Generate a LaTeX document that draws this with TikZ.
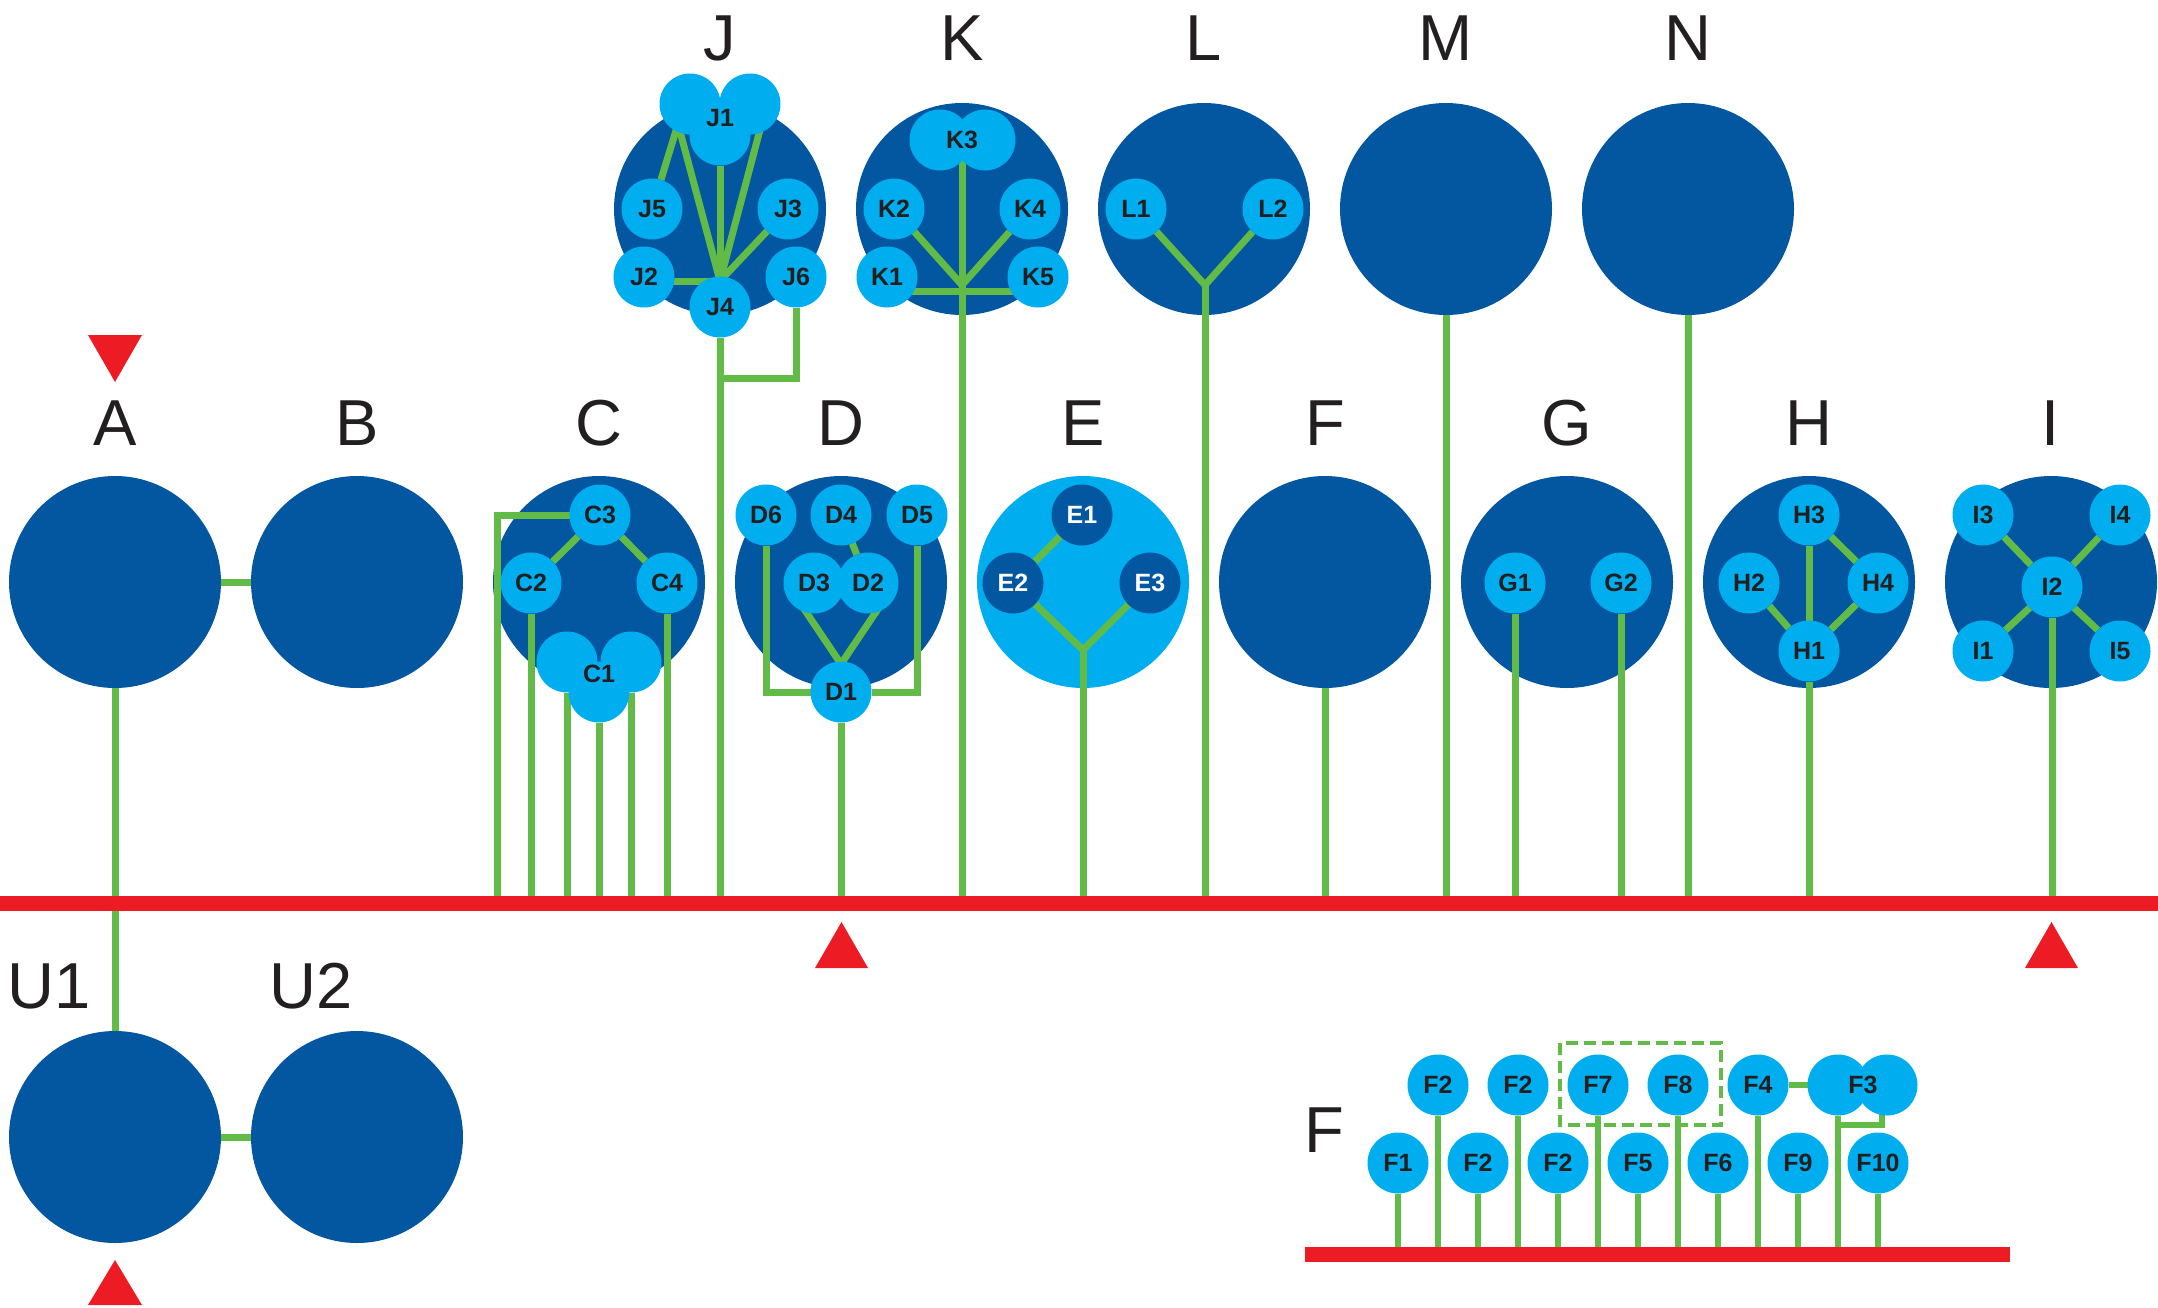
\documentclass[tikz,border=0pt]{standalone}
\usepackage{fontspec}
\setmainfont{Liberation Sans}
\definecolor{dblue}{RGB}{3,86,160}
\definecolor{lblue}{RGB}{0,174,239}
\definecolor{grn}{RGB}{98,187,70}
\definecolor{rd}{RGB}{237,28,36}
\definecolor{ink}{RGB}{35,31,32}
\pgfdeclarelayer{bg}
\pgfdeclarelayer{fg}
\pgfdeclarelayer{top}
\pgfsetlayers{bg,main,fg,top}
\tikzset{
  big/.style={circle, fill=dblue, minimum size=212pt, inner sep=0pt, outer sep=0pt},
  bigl/.style={big, fill=lblue},
  sm/.style={circle, fill=lblue, minimum size=61pt, inner sep=0pt, outer sep=0pt, text=ink, font=\fontsize{25}{25}\selectfont\bfseries},
  smd/.style={sm, fill=dblue, text=white},
  lobe/.style={circle, fill=lblue, minimum size=61pt, inner sep=0pt, outer sep=0pt},
  lobetext/.style={inner sep=0pt, text=ink, font=\fontsize{25}{25}\selectfont\bfseries},
  ttl/.style={inner sep=0pt, text=ink, font=\fontsize{65}{65}\selectfont},
  wire/.style={draw=grn, line width=7pt},
  fwire/.style={draw=grn, line width=6pt},
  busline/.style={draw=rd, line width=15pt},
  redtri/.style={fill=rd},
  dbox/.style={draw=grn, line width=4pt, dash pattern=on 12pt off 6pt}
}
\begin{document}
\begin{tikzpicture}[x=1pt,y=-1pt]
\useasboundingbox (0,0) rectangle (2158,1307);
% ---------- big circles ----------
\begin{pgfonlayer}{bg}
\node[big] (cA) at (115,582) {};
\node[big] (cB) at (357,582) {};
\node[big] (cC) at (599,582) {};
\node[big] (cD) at (841,582) {};
\node[bigl] (cE) at (1083,582) {};
\node[big] (cF) at (1325,582) {};
\node[big] (cG) at (1567,582) {};
\node[big] (cH) at (1809,582) {};
\node[big] (cI) at (2051,582) {};
\node[big] (cJ) at (720,209) {};
\node[big] (cK) at (962,209) {};
\node[big] (cL) at (1204,209) {};
\node[big] (cM) at (1446,209) {};
\node[big] (cN) at (1688,209) {};
\node[big] (cU1) at (115,1137) {};
\node[big] (cU2) at (357,1137) {};
\end{pgfonlayer}
% ---------- titles ----------
\node[ttl] (tA) at (115,423) {A};
\node[ttl] (tB) at (357,423) {B};
\node[ttl] (tC) at (599,423) {C};
\node[ttl] (tD) at (841,423) {D};
\node[ttl] (tE) at (1083,423) {E};
\node[ttl] (tF) at (1325,423) {F};
\node[ttl] (tG) at (1567,423) {G};
\node[ttl] (tH) at (1809,423) {H};
\node[ttl] (tI) at (2051,423) {I};
\node[ttl] (tJ) at (720,38) {J};
\node[ttl] (tK) at (962,38) {K};
\node[ttl] (tL) at (1204,38) {L};
\node[ttl] (tM) at (1446,38) {M};
\node[ttl] (tN) at (1688,38) {N};
\node[ttl] (tU1) at (49,986) {U1};
\node[ttl] (tU2) at (311,986) {U2};
\node[ttl] (tFrow) at (1324,1130) {F};
% ---------- small circles ----------
\begin{pgfonlayer}{fg}
% C
\node[sm] (C3) at (600,515) {C3};
\node[sm] (C2) at (531,583) {C2};
\node[sm] (C4) at (667,583) {C4};
\node[lobe] (C1a) at (567,662) {};
\node[lobe] (C1b) at (631,662) {};
\node[lobe] (C1c) at (599,692) {};
\node[lobetext] (C1) at (599,674) {C1};
% D
\node[sm] (D6) at (766,515) {D6};
\node[sm] (D4) at (841,515) {D4};
\node[sm] (D5) at (917,515) {D5};
\node[sm] (D3) at (814,583) {D3};
\node[sm] (D2) at (868,583) {D2};
\node[sm] (D1) at (841,692) {D1};
% E
\node[smd] (E1) at (1082,515) {E1};
\node[smd] (E2) at (1013,583) {E2};
\node[smd] (E3) at (1150,583) {E3};
% G
\node[sm] (G1) at (1515,583) {G1};
\node[sm] (G2) at (1621,583) {G2};
% H
\node[sm] (H3) at (1809,515) {H3};
\node[sm] (H2) at (1749,583) {H2};
\node[sm] (H4) at (1878,583) {H4};
\node[sm] (H1) at (1809,651) {H1};
% I
\node[sm] (I3) at (1983,515) {I3};
\node[sm] (I4) at (2120,515) {I4};
\node[sm] (I1) at (1983,651) {I1};
\node[sm] (I5) at (2120,651) {I5};
\node[sm] (I2) at (2052,587) {I2};
% J
\node[lobe] (J1a) at (690,104) {};
\node[lobe] (J1b) at (750,104) {};
\node[lobe] (J1c) at (720,135) {};
\node[lobetext] (J1) at (720,118) {J1};
\node[sm] (J5) at (652,209) {J5};
\node[sm] (J3) at (788,209) {J3};
\node[sm] (J2) at (644,277) {J2};
\node[sm] (J6) at (796,277) {J6};
\node[sm] (J4) at (720,307) {J4};
% K
\node[lobe] (K3a) at (940,140) {};
\node[lobe] (K3b) at (985,140) {};
\node[lobetext] (K3) at (962,140) {K3};
\node[sm] (K2) at (894,209) {K2};
\node[sm] (K4) at (1030,209) {K4};
\node[sm] (K1) at (887,277) {K1};
\node[sm] (K5) at (1038,277) {K5};
% L
\node[sm] (L1) at (1136,209) {L1};
\node[sm] (L2) at (1273,209) {L2};
% F row
\node[sm] (Ft1) at (1438,1085) {F2};
\node[sm] (Ft2) at (1518,1085) {F2};
\node[sm] (F7) at (1598,1085) {F7};
\node[sm] (F8) at (1678,1085) {F8};
\node[sm] (F4) at (1758,1085) {F4};
\node[lobe] (F3a) at (1838,1085) {};
\node[lobe] (F3b) at (1887,1085) {};
\node[lobetext] (F3) at (1863,1085) {F3};
\node[sm] (F1) at (1398,1163) {F1};
\node[sm] (Fb2) at (1478,1163) {F2};
\node[sm] (Fb3) at (1558,1163) {F2};
\node[sm] (F5) at (1638,1163) {F5};
\node[sm] (F6) at (1718,1163) {F6};
\node[sm] (F9) at (1798,1163) {F9};
\node[sm] (F10) at (1878,1163) {F10};
\end{pgfonlayer}
% ---------- coordinates ----------
\coordinate (busL) at (0,903);
\coordinate (busR) at (2158,903);
\coordinate (fbL) at (1305,1254);
\coordinate (fbR) at (2010,1254);
\coordinate (c3k) at (497,515);
\coordinate (dv) at (841,664);
\coordinate (d3s) at (800,603);
\coordinate (d2s) at (882,603);
\coordinate (ej) at (1083,650);
\coordinate (jh) at (720,281);
\coordinate (jl) at (678,124);
\coordinate (jr) at (761,126);
\coordinate (jk) at (720,378);
\coordinate (kh) at (962,285);
\coordinate (kb) at (962,291);
\coordinate (lh) at (1205,285);
\coordinate (fk) at (1860,1125);
\coordinate (f3r) at (1882,1105);
% ---------- green connectors ----------
\draw[wire] (cA) -- (cB);
\draw[wire] (cA) -- (cU1);
\draw[wire] (cU1) -- (cU2);
% C
\draw[wire] (C3) -- (C2);
\draw[wire] (C3) -- (C4);
\draw[wire] (C3) -- (c3k) -- (c3k |- busL);
\draw[wire] (C2) -- (C2 |- busL);
\draw[wire] (C1a) -- (C1a |- busL);
\draw[wire] (C1c) -- (C1c |- busL);
\draw[wire] (C1b) -- (C1b |- busL);
\draw[wire] (C4) -- (C4 |- busL);
% D
\draw[wire] (D4) -- (D2);
\draw[wire] (d3s) -- (dv);
\draw[wire] (d2s) -- (dv);
\draw[wire] (D6) -- (D6 |- D1) -- (D1);
\draw[wire] (D5) -- (D5 |- D1) -- (D1);
\draw[wire] (D1) -- (D1 |- busL);
% E
\draw[wire] (E1) -- (E2);
\draw[wire] (E2) -- (ej);
\draw[wire] (E3) -- (ej);
\draw[wire] (ej) -- (ej |- busL);
% F, G
\draw[wire] (cF) -- (cF |- busL);
\draw[wire] (G1) -- (G1 |- busL);
\draw[wire] (G2) -- (G2 |- busL);
% H
\draw[wire] (H3) -- (H1);
\draw[wire] (H3) -- (H4);
\draw[wire] (H2) -- (H1);
\draw[wire] (H4) -- (H1);
\draw[wire] (H1) -- (H1 |- busL);
% I
\draw[wire] (I3) -- (I2);
\draw[wire] (I4) -- (I2);
\draw[wire] (I1) -- (I2);
\draw[wire] (I5) -- (I2);
\draw[wire] (I2) -- (I2 |- busL);
% J
\draw[wire] (J5) -- (jl);
\draw[wire] (jl) -- (jh);
\draw[wire] (J1c) -- (jh);
\draw[wire] (jr) -- (jh);
\draw[wire] (J3) -- (jh);
\draw[wire] (J2 |- jh) -- (jh);
\draw[wire] (J4) -- (J4 |- busL);
\draw[wire] (J6) -- (J6 |- jk) -- (jk);
% K
\draw[wire] (K3) -- (K3 |- busL);
\draw[wire] (K2) -- (kh);
\draw[wire] (K4) -- (kh);
\draw[wire] (K1 |- kb) -- (K5 |- kb);
% L, M, N
\draw[wire] (L1) -- (lh);
\draw[wire] (L2) -- (lh);
\draw[wire] (lh) -- (lh |- busL);
\draw[wire] (cM) -- (cM |- busL);
\draw[wire] (cN) -- (cN |- busL);
% F row
\foreach \n in {Ft1,Ft2,F7,F8,F4,F1,Fb2,Fb3,F5,F6,F9,F10}{
  \draw[fwire] (\n) -- (\n |- fbL);
}
\draw[fwire] (F4) -- (F3a);
\draw[fwire] (F3a) -- (F3a |- fbL);
\draw[fwire] (f3r) -- (f3r |- fk) -- (F3a |- fk);
\draw[dbox] (1560,1043) rectangle (1721,1125);
% ---------- red ----------
\begin{pgfonlayer}{top}
\draw[busline] (busL) -- (busR);
\draw[busline] (fbL) -- (fbR);
\fill[redtri] (88,335) -- (142,335) -- (115,382) -- cycle;
\fill[redtri] (815,968) -- (868,968) -- (841.5,922) -- cycle;
\fill[redtri] (2025,968) -- (2078,968) -- (2051.5,922) -- cycle;
\fill[redtri] (88,1305) -- (142,1305) -- (115,1260) -- cycle;
\end{pgfonlayer}
\end{tikzpicture}
\end{document}
